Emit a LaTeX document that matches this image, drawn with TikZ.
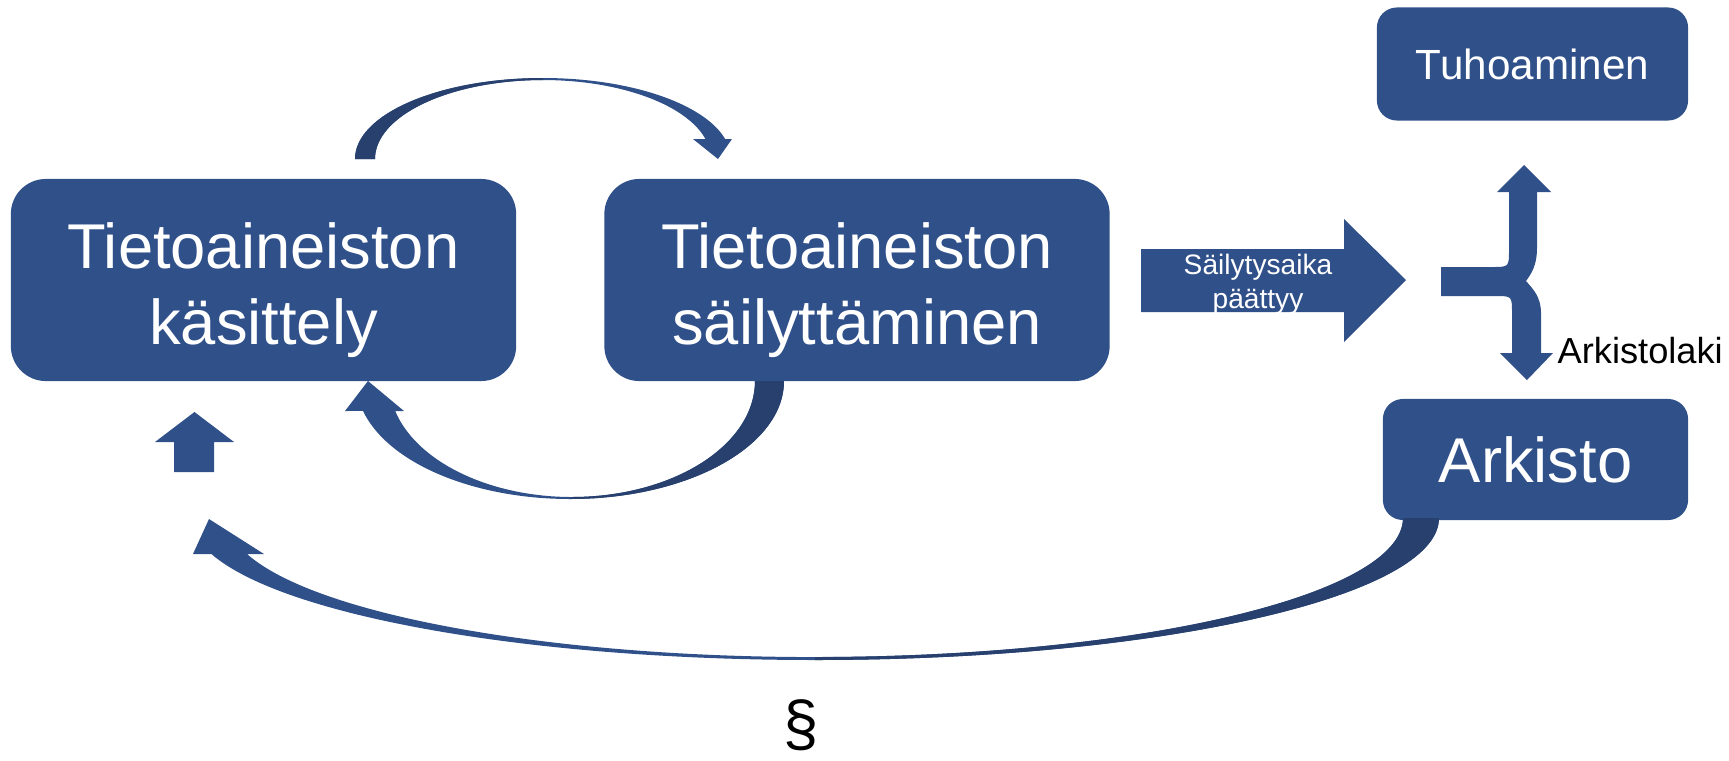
\documentclass[tikz,border=0pt]{standalone}
\usepackage{fontspec}
\setmainfont{Liberation Sans}
\usetikzlibrary{positioning}
\definecolor{boxblue}{RGB}{48,80,138}
\definecolor{shadeblue}{RGB}{40,64,110}

\begin{document}
\begin{tikzpicture}[x=0.01cm,y=-0.01cm,
  main node/.style={rectangle,rounded corners=0.35cm,fill=boxblue,text=white,align=center,minimum width=5.05cm,minimum height=2.02cm,font=\fontsize{18}{21.5}\selectfont},
  end node/.style={rectangle,rounded corners=0.2cm,fill=boxblue,text=white,align=center},
  block arrow/.style={fill=boxblue},
  back arrow/.style={fill=shadeblue}]

	      \useasboundingbox (0,0) rectangle (1729,760);

	      \node[main node] at (263.5,280) (kasittely) {\rule{0pt}{18.7pt}Tietoaineiston\\käsittely};
	      \node[main node] at (857,280) (sailytys) {\rule{0pt}{18.7pt}Tietoaineiston\\säilyttäminen};
	      \node[end node,minimum width=3.11cm,minimum height=1.13cm,font=\fontsize{12}{14}\selectfont] at (1532.5,64) (tuhoaminen) {Tuhoaminen};
	      \node[end node,minimum width=3.05cm,minimum height=1.21cm,font=\fontsize{18}{22}\selectfont] at (1535.5,459.5) (arkisto) {Arkisto};

	      \fill[block arrow] (355,159) arc[start angle=180,end angle=345.7,x radius=188,y radius=81] -- (732,139) -- (718,159) -- (693,139) -- (705.5,139) arc[start angle=345.3,end angle=180,x radius=168,y radius=79] -- cycle;
	      \fill[back arrow] (355,159) arc[start angle=180,end angle=270,x radius=188,y radius=81] -- (543,80) arc[start angle=270,end angle=180,x radius=168,y radius=79] -- cycle;

	      \fill[block arrow] (784,381) arc[start angle=0,end angle=165.3,x radius=214,y radius=118] -- (345,411) -- (368,381) -- (404,411) -- (395.2,411) arc[start angle=165,end angle=0,x radius=183,y radius=116] -- cycle;
	      \fill[back arrow] (784,381) arc[start angle=0,end angle=90,x radius=214,y radius=118] -- (572,497) arc[start angle=90,end angle=0,x radius=183,y radius=116] -- cycle;

	      \fill[block arrow] (1439,518) arc[start angle=0,end angle=165.3,x radius=624,y radius=142] -- (193,554) -- (209,519) -- (264,554) -- (247,554) arc[start angle=165,end angle=0,x radius=588,y radius=139] -- cycle;
	      \fill[back arrow] (1439,518) arc[start angle=0,end angle=90,x radius=624,y radius=142] -- (815,657) arc[start angle=90,end angle=0,x radius=588,y radius=139] -- cycle;

	      \fill[block arrow] (174,472) -- (174,442) -- (155,442) -- (194.5,412) -- (234,442) -- (214,442) -- (214,472) -- cycle;

	      \fill[block arrow] (1141,249) -- (1344,249) -- (1344,219) -- (1406,280) -- (1344,342) -- (1344,312) -- (1141,312) -- cycle;

	      \fill[block arrow] (1441,267) -- (1492,267) .. controls (1509,267) .. (1509,250) -- (1509,192) -- (1497,192) -- (1524,165) -- (1551,192) -- (1537,192) -- (1537,248) .. controls (1537,266) and (1531,274) .. (1526,281) .. controls (1533,289) and (1541,297) .. (1541,313) -- (1541,353) -- (1553,353) -- (1527,380) -- (1500,353) -- (1512,353) -- (1512,313) .. controls (1512,296) .. (1495,296) -- (1441,296) -- cycle;

	      \node[text=white,align=center,font=\fontsize{8}{9.6}\selectfont] at (1258,284) (paattyy) {Säilytysaika\\päättyy};
	      \node[anchor=base west,inner sep=0pt,font=\fontsize{10.3}{12}\selectfont] at (1557,363) (arkistolaki) {Arkistolaki};
	      \node[font=\fontsize{18}{20}\selectfont] at (801,725) (pykala) {§};

	    \end{tikzpicture}
\end{document}
